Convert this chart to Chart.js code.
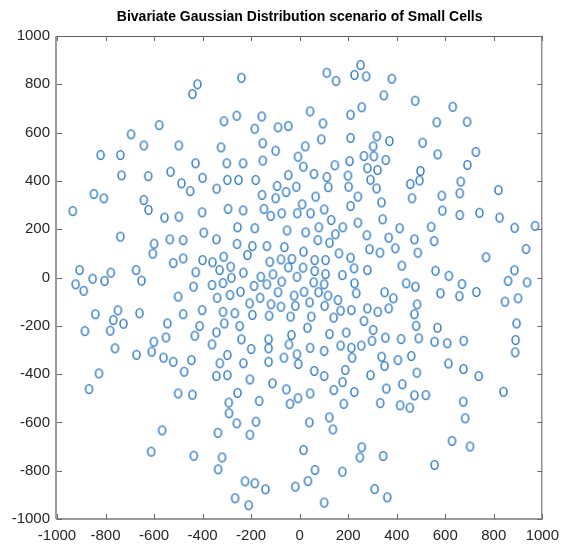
<!DOCTYPE html>
<html>
<head>
<meta charset="utf-8">
<script src="https://cdn.jsdelivr.net/npm/chart.js@4/dist/chart.umd.min.js"></script>
<style>
  html, body { margin: 0; padding: 0; background: #fff; }
</style>
</head>
<body>
<canvas id="cells" width="567" height="548"></canvas>
<script>
// Small cell positions (metres), grouped by area
const farWest = [
  [-579,631],[-695,593],[-642,547],[-498,547],[-820,507],[-739,507],[-734,423],[-624,420],[-532,438],[-487,390],
  [-848,346],[-807,328],[-642,321],[-935,275],[-623,280],[-557,248],[-498,252],[-739,169],[-600,140],[-535,158],
  [-605,99],[-521,60],[-907,31],[-778,20],[-674,31],[-923,-28],[-853,-5],[-804,-14],[-652,-13],[-890,-55],
  [-501,-79],[-842,-152],[-749,-136],[-660,-148],[-768,-176],[-726,-191],[-545,-190],[-885,-222],[-781,-220],[-551,-248],
  [-601,-266],[-761,-293],[-610,-307],[-672,-320],[-561,-332],[-521,-349],[-827,-397],[-868,-462],[-501,-480],[-567,-633],
  [-612,-721]
];
const westTop = [
  [-240,827],[-421,800],[-442,760],[-259,670],[-312,647],[-156,667],[-185,616],[-89,622],[-47,627],[-324,539],
  [-152,556],[-99,525],[-429,473],[-300,473],[-233,473],[-152,484],[-7,500],[-451,358],[-400,413],[-342,368],
  [-298,404],[-252,404],[-181,404],[-47,424],[-93,379],[-56,354],[-155,342],[-99,328],[-14,376]
];
const westMid = [
  [-402,270],[-295,284],[-233,278],[-147,284],[-119,255],[-74,266],[-10,266],[-256,208],[-185,204],[-52,195],
  [-395,186],[-480,155],[-343,158],[-258,139],[-195,130],[-135,130],[-63,126],[-480,79],[-400,72],[-313,86],
  [-359,63],[-215,93],[-123,65],[-77,75],[-32,77],[-330,31],[-284,45],[-47,42],[-428,22],[-232,20],
  [-281,-1],[-316,-23],[-160,3],[-110,13],[-11,3],[-437,-38],[-361,-31],[-188,-35],[-135,-28],[-74,-17],
  [-89,-61],[-340,-84],[-287,-72],[-244,-59],[-163,-84],[-206,-107],[-118,-111],[-77,-121],[-23,-75],[-18,-117],
  [-480,-152],[-402,-135],[-316,-142],[-267,-148],[-195,-155],[-126,-158],[-37,-162],[-412,-201],[-311,-190],[-247,-201],
  [-432,-241],[-343,-227],[-240,-256],[-128,-256],[-34,-238],[-361,-277],[-200,-296],[-128,-293],[-44,-277],[-298,-321],
  [-65,-332],[-11,-318],[-446,-342],[-329,-355],[-232,-355],[-128,-349]
];
const westLow = [
  [-6,-358],[-476,-390],[-343,-408],[-298,-404],[-205,-422],[-112,-438],[-55,-463],[-442,-485],[-256,-478],[-292,-518],
  [-167,-511],[-40,-523],[-7,-500],[-291,-562],[-259,-604],[-180,-597],[-337,-643],[-205,-651],[-436,-738],[-320,-745],
  [-336,-794],[-225,-844],[-185,-852],[-141,-877],[-18,-866],[-266,-914],[-210,-943]
];
const eastTop = [
  [251,880],[112,848],[150,814],[226,839],[274,833],[380,823],[347,754],[476,732],[43,688],[210,674],
  [256,705],[96,638],[23,543],[89,572],[210,578],[318,585],[370,565],[303,543],[15,459],[145,465],
  [206,482],[265,503],[306,502],[355,487],[279,453],[321,445],[59,429],[112,416],[199,422],[292,405],
  [118,374],[202,376],[317,369],[456,387],[494,402],[66,335],[240,335],[463,328],
  [631,707],[565,643],[690,645],[507,558],[569,510],[726,520],[691,466],[498,441],[664,397],[819,362],
  [586,339],[660,349]
];
const eastMid = [
  [337,311],[10,303],[45,266],[101,282],[210,296],[342,241],[130,238],[240,227],[412,204],[79,208],
  [178,208],[25,187],[147,179],[277,175],[367,165],[473,158],[75,155],[123,144],[288,117],[331,103],
  [394,121],[487,103],[16,107],[162,100],[210,82],[62,72],[107,72],[224,38],[279,31],[421,49],
  [14,41],[62,27],[107,14],[176,10],[58,-20],[101,-28],[226,-24],[439,-24],[477,-38],[18,-59],
  [78,-61],[117,-75],[233,-65],[350,-61],[386,-86],[41,-103],[103,-117],[158,-93],[169,-137],[213,-135],
  [279,-128],[322,-142],[367,-128],[484,-111],[48,-162],[140,-166],[265,-180],[473,-152],[480,-200],[32,-208],
  [303,-217],[123,-234],[192,-228],[298,-262],[353,-249],[418,-255],[491,-252],[43,-291],[101,-304],[169,-282],
  [213,-291],[254,-282],[216,-332],[338,-328],[405,-342],[460,-325]
];
const eastLow = [
  [350,-366],[60,-387],[101,-408],[188,-383],[177,-433],[292,-404],[483,-394],[43,-480],[141,-466],[225,-474],
  [182,-523],[357,-460],[423,-442],[473,-488],[332,-520],[414,-529],[454,-539],[40,-600],[122,-579],[137,-629],
  [16,-714],[256,-703],[248,-745],[344,-739],[63,-797],[176,-804],[34,-843],[309,-876],[361,-910],[101,-932]
];
const farEast = [
  [588,277],[660,259],[741,268],[824,248],[886,206],[970,214],[542,210],[554,151],[768,84],[933,118],
  [560,28],[615,7],[669,-27],[885,30],[859,-14],[937,-20],[580,-65],[658,-77],[728,-60],[846,-100],
  [900,-86],[568,-208],[894,-190],[556,-266],[608,-272],[676,-262],[890,-259],[888,-310],[613,-356],[675,-379],
  [738,-408],[840,-473],[520,-487],[674,-514],[682,-583],[628,-677],[702,-700],[556,-776]
];

const xTicks = [-1000, -800, -600, -400, -200, 0, 200, 400, 600, 800, 1000];
const yTicks = [-1000, -800, -600, -400, -200, 0, 200, 400, 600, 800, 1000];
const titleText = 'Bivariate Gaussian Distribution scenario of Small Cells';

const allCells = [].concat(farWest, westTop, westMid, westLow, eastTop, eastMid, eastLow, farEast);

const FONT = "'Liberation Sans', Arial, sans-serif";
const BLUE = '#1d6fbd';

// matlab style open marker, a bit taller than wide like in the picture
function makeMarker() {
    const c = document.createElement('canvas');
    c.width = 11;
    c.height = 12;
    const g = c.getContext('2d');
    g.strokeStyle = BLUE;
    g.lineWidth = 1.35;
    g.beginPath();
    g.ellipse(5.5, 6, 3.5, 4.3, 0, 0, Math.PI * 2);
    g.stroke();
    return c;
}

// centre the title over the plot area rather than the whole canvas
const titleOverPlot = {
    id: 'titleOverPlot',
    afterLayout(chart) {
        if (chart.titleBlock) {
            chart.titleBlock.left = chart.chartArea.left;
            chart.titleBlock.right = chart.chartArea.right;
        }
    }
};

// box round the plot with inward ticks on all four sides
const axesBox = {
    id: 'axesBox',
    afterDraw(chart) {
        const { ctx, chartArea: a, scales } = chart;
        ctx.save();
        ctx.strokeStyle = '#5e5e5e';
        ctx.lineWidth = 1;
        ctx.beginPath();
        ctx.moveTo(a.left, a.top + 0.5);
        ctx.lineTo(a.right, a.top + 0.5);
        ctx.moveTo(a.right - 0.5, a.top);
        ctx.lineTo(a.right - 0.5, a.bottom);
        ctx.stroke();
        ctx.strokeStyle = '#9a9a9a';
        ctx.lineWidth = 2;
        ctx.beginPath();
        ctx.moveTo(a.left - 1, a.bottom);
        ctx.lineTo(a.right, a.bottom);
        ctx.moveTo(a.left - 1, a.top);
        ctx.lineTo(a.left - 1, a.bottom);
        ctx.stroke();

        ctx.strokeStyle = '#6a6a6a';
        ctx.lineWidth = 1;
        ctx.beginPath();
        xTicks.forEach(v => {
            const px = Math.round(scales.x.getPixelForValue(v)) + 0.5;
            ctx.moveTo(px, a.bottom);
            ctx.lineTo(px, a.bottom - 5);
            ctx.moveTo(px, a.top);
            ctx.lineTo(px, a.top + 5);
        });
        yTicks.forEach(v => {
            const py = Math.round(scales.y.getPixelForValue(v)) + 0.5;
            ctx.moveTo(a.left, py);
            ctx.lineTo(a.left + 5, py);
            ctx.moveTo(a.right, py);
            ctx.lineTo(a.right - 5, py);
        });
        ctx.stroke();
        ctx.restore();
    }
};

const ctx = document.getElementById('cells').getContext('2d');
const cellChart = new Chart(ctx, {
    type: 'scatter',
    data: {
        datasets: [{
            data: allCells.map(p => ({ x: p[0], y: p[1] })),
            pointStyle: makeMarker(),
            pointRadius: 4,
            borderColor: BLUE,
            backgroundColor: 'transparent'
        }]
    },
    options: {
        responsive: false,
        animation: false,
        layout: { padding: { left: 0, right: 24, top: 0, bottom: 0 } },
        plugins: {
            legend: { display: false },
            tooltip: { enabled: false },
            title: {
                display: true,
                text: titleText,
                color: '#000',
                font: { family: FONT, size: 14, weight: 'bold' },
                padding: { top: 8.6, bottom: 10.6 }
            }
        },
        scales: {
            x: {
                type: 'linear',
                min: -1000,
                max: 1000,
                afterBuildTicks: s => { s.ticks = xTicks.map(v => ({ value: v })); },
                afterFit: s => { s.height = 29; },
                grid: { display: false, drawTicks: false },
                border: { display: false },
                ticks: {
                    color: '#262626', font: { family: FONT, size: 15 }, padding: 8,
                    maxRotation: 0, autoSkip: false, callback: v => String(v)
                }
            },
            y: {
                type: 'linear',
                min: -1000,
                max: 1000,
                afterBuildTicks: s => { s.ticks = yTicks.map(v => ({ value: v })); },
                afterFit: s => { s.width = 57; },
                grid: { display: false, drawTicks: false },
                border: { display: false },
                ticks: {
                    color: '#262626', font: { family: FONT, size: 15 }, padding: 7,
                    autoSkip: false, callback: v => String(v)
                }
            }
        }
    },
    plugins: [titleOverPlot, axesBox]
});
</script>
</body>
</html>
